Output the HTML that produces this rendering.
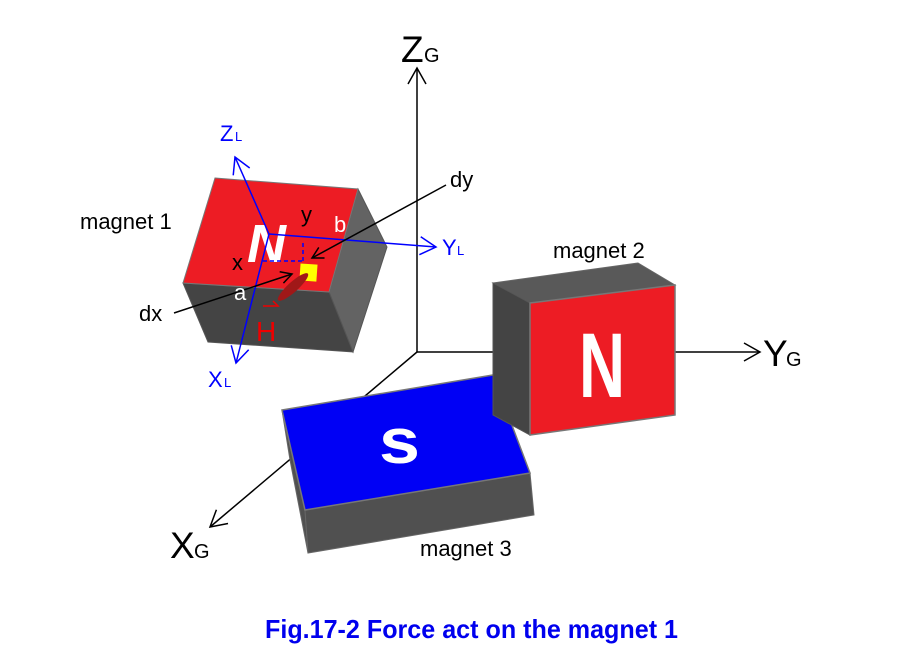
<!DOCTYPE html>
<html><head><meta charset="utf-8"><style>html,body{margin:0;padding:0;background:#fff}svg{display:block}</style></head><body>
<svg width="901" height="671" viewBox="0 0 901 671" xmlns="http://www.w3.org/2000/svg" font-family="Liberation Sans, sans-serif">
<defs>
<marker id="ob" markerWidth="14" markerHeight="14" refX="12" refY="7" orient="auto" markerUnits="userSpaceOnUse"><path d="M1,1 L12,7 L1,13" fill="none" stroke="#000" stroke-width="1.5"/></marker>
<marker id="obl" markerWidth="20" markerHeight="20" refX="17" refY="10" orient="auto" markerUnits="userSpaceOnUse"><path d="M1,1 L17,10 L1,19" fill="none" stroke="#000" stroke-width="1.5"/></marker>
<marker id="bl" markerWidth="20" markerHeight="20" refX="17" refY="10" orient="auto" markerUnits="userSpaceOnUse"><path d="M1,1 L17,10 L1,19" fill="none" stroke="#00f" stroke-width="1.5"/></marker>
</defs>
<line x1="417" y1="352" x2="417" y2="68" stroke="#000" stroke-width="1.5" marker-end="url(#obl)"/>
<line x1="417" y1="352" x2="760" y2="352" stroke="#000" stroke-width="1.5" marker-end="url(#obl)"/>
<line x1="417" y1="352" x2="210" y2="527" stroke="#000" stroke-width="1.5" marker-end="url(#obl)"/>
<text x="401" y="62" font-size="37">Z</text><text x="424" y="62" font-size="20">G</text>
<text x="763" y="366" font-size="37">Y</text><text x="786" y="366" font-size="20">G</text>
<text x="170" y="558" font-size="37">X</text><text x="194" y="558" font-size="20">G</text>
<!-- magnet 1 -->
<polygon points="358,189 387,247 353,352 329,292" fill="#636363" stroke="#555" stroke-width="1"/>
<polygon points="183,283 329,292 353,352 208,342" fill="#444" stroke="#555" stroke-width="1"/>
<polygon points="215,178 358,189 329,292 183,283" fill="#ed1c24" stroke="#777" stroke-width="1"/>
<text x="247" y="262" font-size="54" font-weight="bold" fill="#fff" font-style="italic">N</text>
<rect x="300" y="264" width="17" height="17" fill="#ff0" transform="rotate(4 308 272)"/>
<line x1="263" y1="261" x2="302" y2="261" stroke="#00f" stroke-width="1.5" stroke-dasharray="4,3"/>
<line x1="303" y1="243" x2="303" y2="262" stroke="#00f" stroke-width="1.5" stroke-dasharray="4,3"/>
<ellipse cx="293" cy="287" rx="20" ry="5" fill="#a01818" transform="rotate(-42 293 287)"/>
<line x1="269" y1="234" x2="235" y2="157" stroke="#00f" stroke-width="1.5" marker-end="url(#bl)"/>
<line x1="269" y1="234" x2="436" y2="247" stroke="#00f" stroke-width="1.5" marker-end="url(#bl)"/>
<line x1="269" y1="234" x2="236" y2="363" stroke="#00f" stroke-width="1.5" marker-end="url(#bl)"/>
<text x="220" y="141" font-size="22" fill="#00f">Z</text><text x="235" y="141" font-size="13" fill="#00f">L</text>
<text x="442" y="255" font-size="22" fill="#00f">Y</text><text x="457" y="255" font-size="13" fill="#00f">L</text>
<text x="208" y="387" font-size="22" fill="#00f">X</text><text x="224" y="387" font-size="13" fill="#00f">L</text>
<line x1="446" y1="185" x2="312" y2="258" stroke="#000" stroke-width="1.5" marker-end="url(#ob)"/>
<line x1="174" y1="313" x2="292" y2="274" stroke="#000" stroke-width="1.5" marker-end="url(#ob)"/>
<text x="450" y="187" font-size="22">dy</text>
<text x="139" y="321" font-size="22">dx</text>
<text x="301" y="222" font-size="22">y</text>
<text x="232" y="270" font-size="22">x</text>
<text x="334" y="232" font-size="22" fill="#fff">b</text>
<text x="234" y="300" font-size="22" fill="#fff">a</text>
<text x="256" y="341" font-size="28" fill="#e00">H</text>
<path d="M263,306 L278,306 L273,301" fill="none" stroke="#e00" stroke-width="1.5"/>
<text x="80" y="229" font-size="22">magnet 1</text>
<!-- magnet 3 -->
<polygon points="282,410 305,510 308,553 290,460" fill="#505050" stroke="#666" stroke-width="1"/>
<polygon points="305,510 530,473 534,515 308,553" fill="#505050" stroke="#666" stroke-width="1"/>
<polygon points="282,410 493,375 530,473 305,510" fill="#0000f5" stroke="#777" stroke-width="1.5"/>
<text x="379" y="463" font-size="64" font-weight="bold" fill="#fff" textLength="41" lengthAdjust="spacingAndGlyphs">s</text>
<!-- magnet 2 -->
<polygon points="493,283 638,263 675,285 530,303" fill="#595959" stroke="#666" stroke-width="1"/>
<polygon points="493,283 530,303 530,435 493,415" fill="#444" stroke="#555" stroke-width="1"/>
<polygon points="530,303 675,285 675,415 530,435" fill="#ed1c24" stroke="#777" stroke-width="1.5"/>
<text x="579" y="397" font-size="92" font-weight="bold" fill="#fff" textLength="46" lengthAdjust="spacingAndGlyphs">N</text>
<text x="553" y="258" font-size="22">magnet 2</text>
<text x="420" y="556" font-size="22">magnet 3</text>
<text x="265" y="638" font-size="26" font-weight="bold" fill="#00e" textLength="413" lengthAdjust="spacingAndGlyphs">Fig.17-2 Force act on the magnet 1</text>
</svg>
</body></html>
